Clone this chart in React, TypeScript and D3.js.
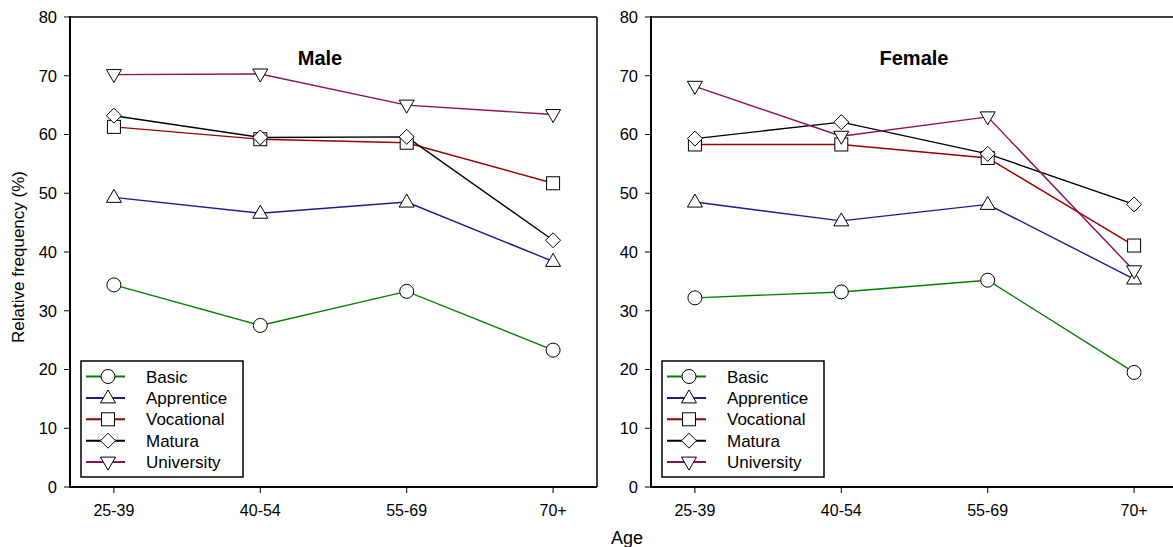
import React from "react";
import * as d3 from "d3";

const ages = ["25-39", "40-54", "55-69", "70+"];
const seriesNames = ["Basic", "Apprentice", "Vocational", "Matura", "University"];
const seriesColors = ["#008000", "#1a1a90", "#990000", "#000000", "#8b1055"];
const seriesSymbols = ["circle", "triangleUp", "square", "diamond", "triangleDown"];

const maleBasic = [34.4, 27.5, 33.3, 23.3];
const maleApprentice = [49.3, 46.6, 48.5, 38.4];
const maleVocational = [61.3, 59.2, 58.6, 51.7];
const maleMatura = [63.2, 59.5, 59.6, 42.0];
const maleUniversity = [70.2, 70.3, 65.0, 63.4];

const femaleBasic = [32.2, 33.2, 35.2, 19.5];
const femaleApprentice = [48.5, 45.3, 48.1, 35.4];
const femaleVocational = [58.3, 58.3, 56.0, 41.1];
const femaleMatura = [59.3, 62.1, 56.7, 48.1];
const femaleUniversity = [68.2, 59.7, 63.0, 36.8];

const yTicks = [0, 10, 20, 30, 40, 50, 60, 70, 80];

const panels = [
  { title: "Male", left: 70, titleX: 320, data: [maleBasic, maleApprentice, maleVocational, maleMatura, maleUniversity] },
  { title: "Female", left: 651, titleX: 914, data: [femaleBasic, femaleApprentice, femaleVocational, femaleMatura, femaleUniversity] },
];

const W = 1173;
const H = 547;
const panelW = 527;
const top = 17;
const bottom = 487;
const FONT = "'Liberation Sans', Arial, sans-serif";

function Marker({ type, x, y }: { type: string; x: number; y: number }) {
  const common = { fill: "#fff", stroke: "#000", strokeWidth: 1 };
  if (type === "circle") return <circle cx={x} cy={y} r={7} {...common} />;
  if (type === "square") return <rect x={x - 6.5} y={y - 6.5} width={13} height={13} {...common} />;
  if (type === "diamond")
    return <path d={`M${x},${y - 7.5}L${x + 7.5},${y}L${x},${y + 7.5}L${x - 7.5},${y}Z`} {...common} />;
  if (type === "triangleUp")
    return <path d={`M${x},${y - 8}L${x + 7.5},${y + 5}L${x - 7.5},${y + 5}Z`} {...common} />;
  return <path d={`M${x},${y + 8}L${x + 7.5},${y - 5}L${x - 7.5},${y - 5}Z`} {...common} />;
}

function Panel({ title, left, titleX, data }: { title: string; left: number; titleX: number; data: number[][] }) {
  const x = d3.scalePoint<string>().domain(ages).range([left, left + panelW]).padding(0.3);
  const y = d3.scaleLinear().domain([0, 80]).range([bottom, top]);
  const line = d3
    .line<number>()
    .x((_, i) => x(ages[i]) as number)
    .y((d) => y(d));
  const right = left + panelW;
  const legX = left + 11;
  const legY = 361;
  return (
    <g>
      <line x1={left} x2={right} y1={top} y2={top} stroke="#000" strokeWidth={1.5} />
      <line x1={right} x2={right} y1={top} y2={bottom} stroke="#000" strokeWidth={1.5} />
      <line x1={left} x2={left} y1={top - 1} y2={bottom + 1} stroke="#000" strokeWidth={2} />
      <line x1={left - 1} x2={right} y1={bottom} y2={bottom} stroke="#000" strokeWidth={2} />
      {yTicks.map((t) => (
        <g key={t}>
          <line x1={left - 6} x2={left} y1={y(t)} y2={y(t)} stroke="#000" strokeWidth={1} />
          <text x={left - 13} y={y(t)} dy="0.36em" textAnchor="end" fontSize={16.5} fontFamily={FONT}>
            {t}
          </text>
        </g>
      ))}
      {ages.map((a) => (
        <g key={a}>
          <line x1={x(a)} x2={x(a)} y1={bottom} y2={bottom + 6} stroke="#000" strokeWidth={1} />
          <text x={x(a)} y={516} textAnchor="middle" fontSize={16} fontFamily={FONT}>
            {a}
          </text>
        </g>
      ))}
      <text x={titleX} y={65} textAnchor="middle" fontSize={20} fontWeight="bold" fontFamily={FONT}>
        {title}
      </text>
      {data.map((vals, si) => (
        <path key={si} d={line(vals) || ""} fill="none" stroke={seriesColors[si]} strokeWidth={1.4} />
      ))}
      {data.map((vals, si) =>
        vals.map((v, i) => <Marker key={si + "-" + i} type={seriesSymbols[si]} x={x(ages[i]) as number} y={y(v)} />)
      )}
      <rect x={legX} y={legY} width={162} height={116} fill="#fff" stroke="#000" strokeWidth={1.5} />
      {seriesNames.map((n, si) => {
        const ry = 376.5 + si * 21.4;
        return (
          <g key={n}>
            <line x1={legX + 5} x2={legX + 44} y1={ry} y2={ry} stroke={seriesColors[si]} strokeWidth={2} />
            <Marker type={seriesSymbols[si]} x={legX + 27} y={ry} />
            <text x={legX + 65} y={ry} dy="0.36em" fontSize={17} fontFamily={FONT}>
              {n}
            </text>
          </g>
        );
      })}
    </g>
  );
}

export default function App() {
  return (
    <svg
      width={W}
      height={H}
      style={{ position: "absolute", left: 0, top: 0, background: "#fff", display: "block" }}
    >
      <rect x={0} y={0} width={W} height={H} fill="#fff" />
      {panels.map((p) => (
        <Panel key={p.title} title={p.title} left={p.left} titleX={p.titleX} data={p.data} />
      ))}
      <text transform="translate(24,257) rotate(-90)" textAnchor="middle" fontSize={17} fontFamily={FONT}>
        Relative frequency (%)
      </text>
      <text x={627} y={544} textAnchor="middle" fontSize={18} fontFamily={FONT}>
        Age
      </text>
    </svg>
  );
}
